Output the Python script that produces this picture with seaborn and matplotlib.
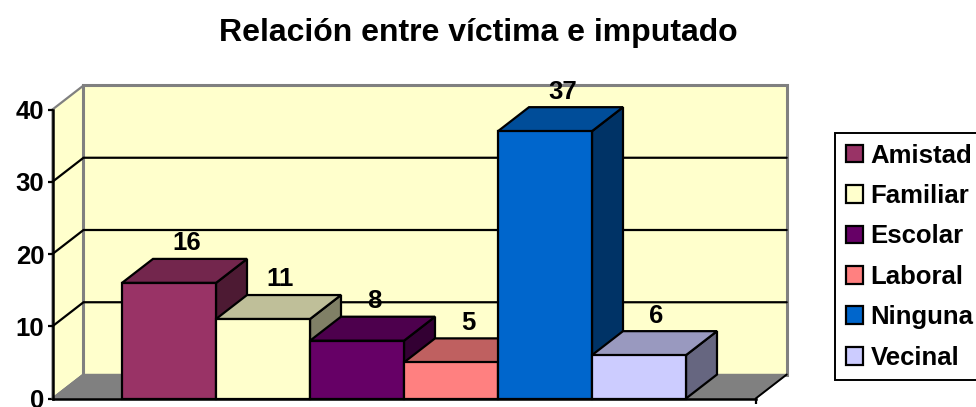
import matplotlib
matplotlib.use("Agg")
import matplotlib.pyplot as plt
import pandas as pd
import seaborn as sns
from matplotlib.colors import to_rgb
from matplotlib.patches import Polygon, Rectangle

categories = ["Amistad", "Familiar", "Escolar", "Laboral", "Ninguna", "Vecinal"]
values = [16, 11, 8, 5, 37, 6]
colors = ["#993366", "#FFFFCC", "#660066", "#FF8080", "#0066CC", "#CCCCFF"]
y_ticks = [0, 10, 20, 30, 40]

W, H = 976, 407
# front plane of the fake 3d box, in pixels
LEFT, RIGHT, BOTTOM, TOP = 52.5, 755.7, 398.5, 109.5
BAR_PX = 94.0
FIRST_CENTER = 169.0
DX_PX, DY_PX = 31.0, 24.0

sns.set_theme(style="white")
plt.rcParams["font.family"] = ["Liberation Sans", "DejaVu Sans"]
plt.rcParams["font.weight"] = "bold"


def shade(color, k):
    return tuple(c * k for c in to_rgb(color))


df = pd.DataFrame({"relacion": categories, "casos": values})

fig = plt.figure(figsize=(W / 100, H / 100), dpi=100)
ax = fig.add_axes([LEFT / W, 1 - BOTTOM / H, (RIGHT - LEFT) / W, (BOTTOM - TOP) / H])

sns.barplot(data=df, x="relacion", y="casos", hue="relacion", order=categories,
            hue_order=categories, palette=colors, dodge=False, width=1, saturation=1,
            edgecolor="black", linewidth=1.6, legend=False, ax=ax)

ax.set_xlim((LEFT - FIRST_CENTER) / BAR_PX, (RIGHT - FIRST_CENTER) / BAR_PX)
ax.set_ylim(0, 40)
ax.patch.set_visible(False)

# depth of the box in data units
dx = DX_PX * (ax.get_xlim()[1] - ax.get_xlim()[0]) / (RIGHT - LEFT)
dy = DY_PX * 40 / (BOTTOM - TOP)
x0, x1 = ax.get_xlim()
GREY = "#808080"

# walls and floor
ax.add_patch(Polygon([(x0, 0), (x0 + dx, dy), (x0 + dx, 40 + dy), (x0, 40)], closed=True,
                     fc="#FFFFCC", ec=GREY, lw=1.6, clip_on=False, zorder=0.5))
ax.add_patch(Polygon([(x0 + dx, dy), (x1 + dx, dy), (x1 + dx, 40 + dy), (x0 + dx, 40 + dy)],
                     closed=True, fc="#FFFFCC", ec=GREY, lw=2.2, clip_on=False, zorder=0.6))
ax.add_patch(Polygon([(x0, 0), (x1, 0), (x1 + dx, dy), (x0 + dx, dy)], closed=True,
                     fc=GREY, ec=GREY, lw=1, clip_on=False, zorder=0.7))
ax.plot([x1, x1 + dx], [0, dy], color="black", lw=1.4, clip_on=False, zorder=0.8)
ax.plot([x0, x0 + dx], [0, dy], color=GREY, lw=1.4, clip_on=False, zorder=0.8)

for t in y_ticks[1:-1]:
    ax.plot([x0, x0 + dx, x1 + dx], [t, t + dy, t + dy], color="black", lw=1.6,
            clip_on=False, zorder=1, solid_joinstyle="miter")

# front faces come from seaborn, tops and sides are built on them
bars = sorted([p for p in ax.patches if isinstance(p, Rectangle) and p.get_height() > 0],
              key=lambda p: p.get_x())
for i, (bar, val, col) in enumerate(zip(bars, values, colors)):
    a, b = bar.get_x(), bar.get_x() + bar.get_width()
    h = bar.get_height()
    z = 3 + i
    bar.set_zorder(z + 0.5)
    bar.set_clip_on(False)
    ax.add_patch(Polygon([(b, 0), (b + dx, dy), (b + dx, h + dy), (b, h)], closed=True,
                         fc=shade(col, 0.5), ec="black", lw=1.6, clip_on=False, zorder=z))
    ax.add_patch(Polygon([(a, h), (b, h), (b + dx, h + dy), (a + dx, h + dy)], closed=True,
                         fc=shade(col, 0.75), ec="black", lw=1.6, clip_on=False, zorder=z + 0.2))
    ax.annotate(str(val), (bar.get_x() + bar.get_width() / 2, h), xytext=(12.5, 28.5),
                textcoords="offset points", ha="center", va="center", fontsize=18.5,
                fontweight="bold", color="black", zorder=20, annotation_clip=False)

sns.despine(ax=ax)
for side in ["left", "bottom"]:
    ax.spines[side].set_color("black")
    ax.spines[side].set_linewidth(1.8)
    ax.spines[side].set_zorder(15)

ax.set_xlabel("")
ax.set_ylabel("")
ax.set_xticks([x1])
ax.set_xticklabels([""])
ax.set_yticks(y_ticks)
ax.tick_params(axis="y", left=True, length=3.5, width=1.6, color="black", pad=2.5, labelsize=18.5)
ax.tick_params(axis="x", bottom=True, length=3.5, width=1.6, color="black")
for lab in ax.get_yticklabels():
    lab.set_fontweight("bold")
    lab.set_color("black")

leg = fig.legend(bars, categories, loc="upper left", bbox_to_anchor=(835 / W, 1 - 133 / H),
                 bbox_transform=fig.transFigure, borderaxespad=0, prop={"weight": "bold", "size": 18.5},
                 frameon=True, fancybox=False, edgecolor="black", framealpha=1, borderpad=0.41,
                 handlelength=0.68, handleheight=0.68, handletextpad=0.3, labelspacing=0.64)
leg.get_frame().set_linewidth(1.4)
for txt in leg.get_texts():
    txt.set_color("black")

fig.text(478.5 / W, 1 - 33 / H, "Relación entre víctima e imputado", ha="center", va="center",
         fontsize=23, fontweight="bold", color="black")

fig.savefig("out.png", dpi=100)
